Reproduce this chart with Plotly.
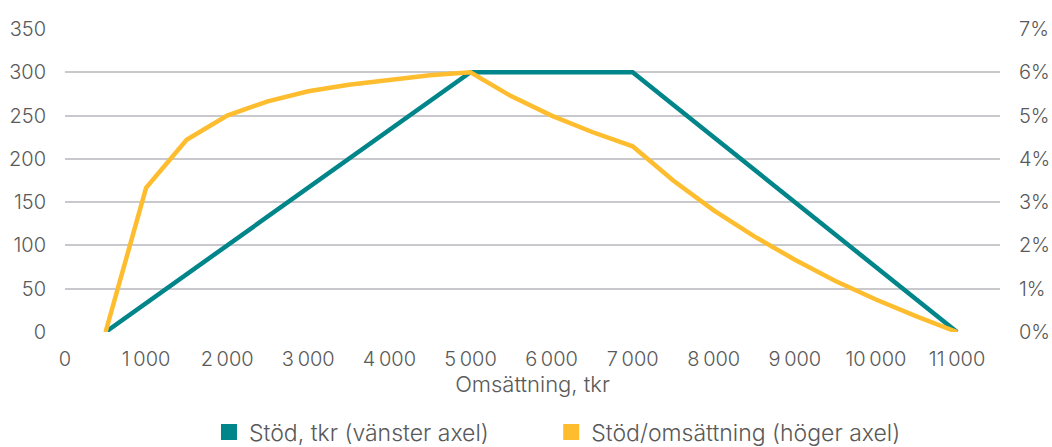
import plotly.graph_objects as go

# Data
turnover = [500, 1000, 1500, 2000, 2500, 3000, 3500, 4000, 4500, 5000, 5500, 6000,
            6500, 7000, 7500, 8000, 8500, 9000, 9500, 10000, 10500, 11000]
support_tkr = [0, 33.3, 66.7, 100, 133.3, 166.7, 200, 233.3, 266.7, 300, 300, 300,
               300, 300, 262.5, 225, 187.5, 150, 112.5, 75, 37.5, 0]
support_share = [0.0, 3.33, 4.44, 5.0, 5.33, 5.56, 5.71, 5.83, 5.93, 6.0, 5.45, 5.0,
                 4.62, 4.29, 3.5, 2.81, 2.21, 1.67, 1.18, 0.75, 0.36, 0.0]
x_ticks = [0, 1000, 2000, 3000, 4000, 5000, 6000, 7000, 8000, 9000, 10000, 11000]
x_labels = ["0", "1\u2009000", "2\u2009000", "3\u2009000", "4\u2009000", "5\u2009000",
            "6\u2009000", "7\u2009000", "8\u2009000", "9\u2009000", "10\u2009000",
            "11\u2009000"]
y_left_ticks = [0, 50, 100, 150, 200, 250, 300, 350]
y_right_ticks = [0, 1, 2, 3, 4, 5, 6, 7]
y_right_labels = [f"{v}%" for v in y_right_ticks]
name_left = "Stöd, tkr (vänster axel)"
name_right = "Stöd/omsättning (höger axel)"

TEAL = "#00868A"
YELLOW = "#FDBD2E"
TXT = "#595959"
GRID = "#C9C9CD"
FONT = "Inter"
FS = 20

fig = go.Figure()
fig.add_trace(go.Scatter(x=turnover, y=support_share, mode="lines", yaxis="y2",
                         line=dict(color=YELLOW, width=4.5), showlegend=False))
fig.add_trace(go.Scatter(x=turnover, y=support_tkr, mode="lines", yaxis="y",
                         line=dict(color=TEAL, width=4.5), showlegend=False))
# legend entries (square swatches)
fig.add_trace(go.Scatter(x=[None], y=[None], mode="markers", name=name_left,
                         marker=dict(symbol="square", size=16, color=TEAL),
                         legend="legend"))
fig.add_trace(go.Scatter(x=[None], y=[None], mode="markers", name=name_right,
                         marker=dict(symbol="square", size=16, color=YELLOW),
                         legend="legend2"))

legend_style = dict(orientation="h", xanchor="left", y=-0.33, yanchor="middle",
                    font=dict(size=23, color=TXT, weight=300),
                    bgcolor="rgba(0,0,0,0)")

fig.update_layout(
    width=1052, height=447,
    margin=dict(l=65, r=52, t=29, b=115, autoexpand=False),
    paper_bgcolor="white", plot_bgcolor="white",
    font=dict(family=FONT, size=FS, color=TXT, weight=300),
    xaxis=dict(range=[0, 11530], tickvals=x_ticks, ticktext=x_labels,
               showgrid=False, zeroline=False, showline=False,
               ticks="outside", ticklen=9, tickcolor="rgba(0,0,0,0)",
               automargin=False,
               title=dict(text="Omsättning, tkr", standoff=3,
                          font=dict(size=22, color=TXT, weight=300))),
    yaxis=dict(range=[0, 350], tickvals=y_left_ticks, showgrid=True,
               gridcolor=GRID, gridwidth=1.5, zeroline=False, showline=False,
               ticks="outside", ticklen=14, tickcolor="rgba(0,0,0,0)",
               automargin=False),
    yaxis2=dict(range=[0, 7], tickvals=y_right_ticks, ticktext=y_right_labels,
                overlaying="y", side="right", showgrid=False, zeroline=False,
                showline=False, ticks="outside", ticklen=14,
                tickcolor="rgba(0,0,0,0)", automargin=False),
    legend=dict(x=0.154, **legend_style),
    legend2=dict(x=0.520, **legend_style),
)

fig.write_html("out.html", config={"displayModeBar": False},
               post_script="document.body.style.margin='0';document.body.style.padding='0';")
